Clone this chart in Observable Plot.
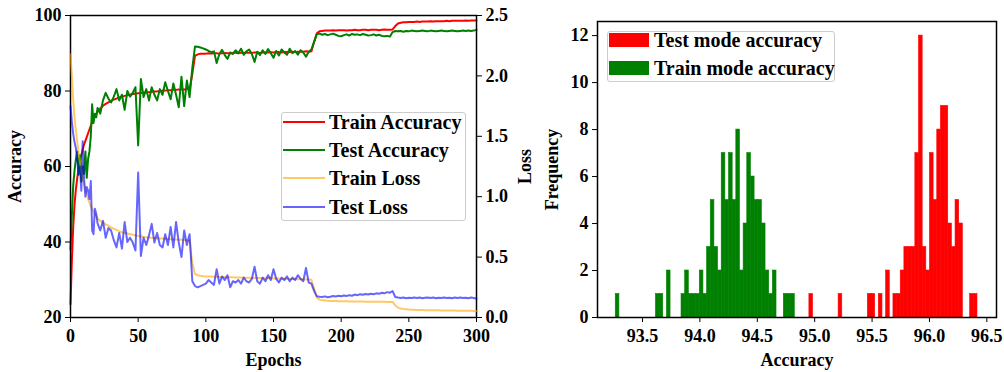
<!DOCTYPE html>
<html><head><meta charset="utf-8">
<script src="https://cdn.jsdelivr.net/npm/d3@7"></script>
<script src="https://cdn.jsdelivr.net/npm/@observablehq/plot@0.6"></script>
<style>
body{margin:0;background:#fff;}
#fig{position:relative;width:1004px;height:372px;overflow:hidden;font-family:"Liberation Serif","Times New Roman",serif;font-weight:bold;color:#000;}
#fig svg{position:absolute;top:0;}
.legend{position:absolute;background:rgba(255,255,255,0.8);border:1px solid #cccccc;border-radius:3px;box-sizing:border-box;}
.row{position:absolute;left:0;height:20px;line-height:20px;font-size:20px;white-space:nowrap;}
</style></head><body><div id="fig"></div>
<script>
// ---------- left panel: training curves ----------
const epochs = [0,1,2,3,4,5,6,7,8,9,10,11,12,13,14,15,16,17,18,19,20,
 22,24,26,28,30,32,34,36,38,40,
 42,44,46,48,50,52,54,56,58,60,
 62,64,66,68,70,72,74,76,78,80,
 82,84,86,88,90,92,94,96,98,100,
 102,104,106,108,110,112,114,116,118,120,
 122,124,126,128,130,132,134,136,138,140,
 142,144,146,148,150,152,154,156,158,160,
 162,164,166,168,170,172,174,176,178,180,
 182,184,186,188,190,192,194,196,198,200,
 202,204,206,208,210,212,214,216,218,220,
 222,224,226,228,230,232,234,236,238,240,
 242,244,246,248,250,252,254,256,258,260,
 262,264,266,268,270,272,274,276,278,280,
 282,284,286,288,290,292,294,296,298,300];

const trainAccuracy = [23.5,35,44,50,54,57,59.5,61.5,63,64.5,65.8,66.8,67.8,68.8,69.8,70.8,71.8,72.6,73.3,73.9,74.5,
 75.4,76.1,76.6,77.0,77.4,77.7,78.0,78.3,78.5,78.7,
 78.9,79.0,79.2,79.3,79.4,79.5,79.6,79.6,79.7,79.8,
 79.9,79.9,80.0,80.1,80.1,80.2,80.2,80.3,80.3,80.4,
 80.4,80.4,80.5,80.5,84.5,89.3,89.7,89.9,89.9,89.9,
 90.0,89.9,90.0,90.0,89.9,90.0,90.1,90.0,90.0,90.1,
 90.1,90.0,90.1,90.1,90.2,90.1,90.1,90.2,90.2,90.1,
 90.2,90.2,90.2,90.3,90.2,90.3,90.3,90.2,90.3,90.3,
 90.3,90.4,90.3,90.4,90.4,90.4,90.5,90.4,90.5,93.0,
 95.3,95.8,95.9,96.0,96.0,96.0,96.1,96.0,96.1,96.1,
 96.1,96.0,96.1,96.1,96.2,96.1,96.1,96.2,96.2,96.1,
 96.2,96.2,96.2,96.1,96.2,96.3,96.2,96.2,96.3,97.2,
 97.9,98.1,98.2,98.2,98.3,98.3,98.3,98.4,98.3,98.4,
 98.4,98.4,98.5,98.4,98.5,98.5,98.5,98.5,98.6,98.5,
 98.6,98.6,98.6,98.6,98.6,98.7,98.6,98.7,98.7,98.7];

const testAccuracy = [38,47,55,59,62,64,58,63,56,60,58,64,57,62,64,68,76.5,71.5,74,73,75.5,
 74,77.5,79.5,78,77,78.5,80.5,77.5,79,75,
 80.0,78.5,79.5,81.0,65.6,83.2,78.4,80.5,77.5,81.0,
 79.0,77.5,80.5,79.0,82.3,80.0,77.8,82.0,79.0,75.7,
 83.8,76.0,82.8,78.4,86.0,91.8,91.7,91.5,91.3,91.0,
 90.6,90.3,90.5,87.4,89.8,90.9,89.5,88.5,90.2,89.8,
 90.8,90.0,91.2,89.6,90.5,91.0,89.8,87.7,90.4,89.5,
 90.8,89.8,91.1,90.0,88.8,90.6,89.4,91.0,90.2,89.6,
 91.2,90.0,90.6,89.6,90.8,90.2,89.1,90.4,91.0,93.0,
 95.0,95.2,94.9,95.1,94.8,95.0,95.2,94.9,94.6,94.5,
 94.8,95.0,94.7,95.1,94.9,95.0,94.8,95.1,94.9,94.7,
 94.8,95.0,94.7,94.9,94.6,94.5,94.6,94.4,95.6,95.9,
 95.8,95.9,95.7,95.9,95.8,96.0,95.9,95.8,95.9,96.0,
 95.9,95.8,96.0,95.9,95.8,95.9,96.0,95.9,95.8,95.9,
 96.0,95.9,95.8,95.9,96.0,95.9,96.0,95.9,96.0,96.2];

const trainLoss = [2.18,2.0,1.8,1.65,1.55,1.45,1.36,1.29,1.22,1.16,1.11,1.06,1.02,0.98,0.95,0.92,0.90,0.88,0.86,0.84,0.82,
 0.80,0.785,0.77,0.76,0.745,0.735,0.725,0.715,0.705,0.70,
 0.695,0.69,0.685,0.68,0.675,0.672,0.668,0.665,0.662,0.66,
 0.658,0.656,0.655,0.653,0.652,0.65,0.648,0.646,0.645,0.644,
 0.643,0.642,0.64,0.638,0.45,0.36,0.35,0.345,0.342,0.34,
 0.34,0.34,0.338,0.338,0.336,0.335,0.335,0.334,0.333,0.333,
 0.332,0.331,0.331,0.33,0.33,0.329,0.328,0.328,0.327,0.326,
 0.326,0.325,0.324,0.324,0.323,0.322,0.322,0.321,0.32,0.32,
 0.319,0.318,0.318,0.317,0.316,0.316,0.315,0.314,0.313,0.24,
 0.165,0.148,0.142,0.14,0.138,0.137,0.136,0.136,0.135,0.135,
 0.134,0.134,0.133,0.133,0.133,0.132,0.132,0.132,0.131,0.131,
 0.131,0.131,0.13,0.13,0.13,0.13,0.129,0.129,0.129,0.1,
 0.082,0.074,0.07,0.068,0.066,0.065,0.064,0.063,0.062,0.062,
 0.061,0.061,0.06,0.06,0.059,0.059,0.058,0.058,0.058,0.057,
 0.057,0.057,0.056,0.056,0.056,0.055,0.055,0.055,0.054,0.054];

const testLoss = [1.75,1.62,1.52,1.45,1.40,1.30,1.18,1.25,1.05,1.46,1.15,1.0,1.08,1.05,0.98,1.13,0.72,0.69,0.9,0.86,0.78,
 0.72,0.80,0.66,0.74,0.72,0.64,0.58,0.70,0.57,0.79,
 0.625,0.66,0.62,0.555,1.20,0.51,0.66,0.60,0.68,0.775,
 0.62,0.70,0.60,0.58,0.69,0.60,0.75,0.58,0.79,0.62,
 0.50,0.72,0.60,0.69,0.30,0.26,0.25,0.26,0.27,0.28,
 0.31,0.29,0.27,0.40,0.28,0.34,0.31,0.35,0.25,0.30,
 0.29,0.31,0.28,0.33,0.30,0.29,0.32,0.42,0.30,0.28,
 0.33,0.30,0.35,0.31,0.40,0.32,0.29,0.33,0.31,0.34,
 0.30,0.33,0.31,0.35,0.32,0.30,0.41,0.29,0.28,0.22,
 0.175,0.172,0.17,0.175,0.168,0.172,0.178,0.174,0.18,0.176,
 0.182,0.178,0.185,0.18,0.19,0.185,0.192,0.188,0.195,0.19,
 0.197,0.193,0.2,0.196,0.205,0.2,0.21,0.205,0.218,0.17,
 0.165,0.162,0.166,0.16,0.164,0.161,0.166,0.162,0.165,0.16,
 0.163,0.166,0.161,0.165,0.16,0.164,0.162,0.166,0.161,0.164,
 0.16,0.165,0.162,0.166,0.161,0.164,0.16,0.165,0.162,0.155];

const epochTicks = [0,50,100,150,200,250,300];
const accuracyTicks = [20,40,60,80,100];
const lossTicks = [0,0.5,1.0,1.5,2.0,2.5];
const curveNames = ["Train Accuracy","Test Accuracy","Train Loss","Test Loss"];

// ---------- right panel: accuracy histogram ----------
const histBinStart = 93.267;
const histBinWidth = 0.03183;
const testModeCounts = [
 0,0,0,0,0,0,0,0,0,0, 0,0,0,0,0,0,0,0,0,0, 0,0,0,0,0,0,0,0,0,0,
 0,0,0,0,0,0,0,0,0,0, 0,0,0,0,0,0,0,0,0,0,
 0,0,0,1,0,0,0,0,0,0, 0,1,0,0,0,0,0,0,0,1,
 1,0,1,0,2,0,1,1,2,3, 3,3,7,12,3,2,7,5,8,9,
 9,4,3,5,4,0,0,1,1];
const trainModeCounts = [
 1,0,0,0,0,0,0,0,0,0, 0,1,1,0,2,0,0,0,1,2, 1,1,1,2,1,3,5,3,2,7,
 5,7,5,8,2,4,7,6,5,5, 4,2,1,2,0,0,1,1,1,0,
 0,0,0,0,0,0,0,0,0,0, 0,0,0,0,0,0,0,0,0,0,
 0,0,0,0,0,0,0,0,0,0, 0,0,0,0,0,0,0,0,0,0,
 0,0,0,0,0,0,0,0,0];
const histTicks = [93.5,94.0,94.5,95.0,95.5,96.0,96.5];
const freqTicks = [0,2,4,6,8,10,12];
const histNames = ["Test mode accuracy","Train mode accuracy"];

// ---------- build ----------
const FONT = '"Liberation Serif","Times New Roman",serif';
const TICK = 18;
const rows = epochs.map((e,i)=>({epoch:e, trainAcc:trainAccuracy[i], testAcc:testAccuracy[i], trainLoss:trainLoss[i], testLoss:testLoss[i]}));
const colors = {trainAcc:"#ff0000", testAcc:"#008000", trainLoss:"#ffa500", testLoss:"#0000ff"};
const LW = 2;
const baseStyle = {fontFamily: FONT, fontWeight: "bold", fontSize: TICK+"px", background: "none", overflow: "visible", color:"#000"};
const fig = document.getElementById("fig");
const axText = {fontSize:TICK, fontWeight:"bold", labelArrow:"none"};

const leftDims = {width:538, height:372, marginLeft:70, marginRight:62, marginTop:15, marginBottom:55};

const accPlot = Plot.plot({
  ...leftDims,
  style: baseStyle,
  x: {domain:[0,300]},
  y: {domain:[20,100]},
  marks: [
    Plot.lineY(rows, {x:"epoch", y:"trainAcc", stroke:colors.trainAcc, strokeWidth:LW}),
    Plot.lineY(rows, {x:"epoch", y:"testAcc", stroke:colors.testAcc, strokeWidth:LW}),
    Plot.frame({stroke:"#000", strokeWidth:1.5}),
    Plot.axisX({...axText, ticks:epochTicks, tickSize:5, tickPadding:7, label:"Epochs", labelAnchor:"center", labelOffset:48}),
    Plot.axisY({...axText, ticks:accuracyTicks, tickSize:5, tickPadding:4, label:"Accuracy", labelAnchor:"center", labelOffset:62})
  ]
});
accPlot.style.left = "0px";
fig.appendChild(accPlot);

const lossPlot = Plot.plot({
  ...leftDims,
  style: baseStyle,
  x: {domain:[0,300], axis:null},
  y: {domain:[0,2.5]},
  marks: [
    Plot.lineY(rows, {x:"epoch", y:"trainLoss", stroke:colors.trainLoss, strokeOpacity:0.6, strokeWidth:LW}),
    Plot.lineY(rows, {x:"epoch", y:"testLoss", stroke:colors.testLoss, strokeOpacity:0.6, strokeWidth:LW}),
    Plot.axisY({...axText, anchor:"right", ticks:lossTicks, tickFormat:d=>d.toFixed(1), tickSize:5, tickPadding:4, label:"Loss", labelAnchor:"center", labelOffset:54})
  ]
});
lossPlot.style.left = "0px";
fig.appendChild(lossPlot);

// legend (left)
function lineLegend(box, items){
  const d = document.createElement("div");
  d.className = "legend";
  Object.assign(d.style, {left:box.left+"px", top:box.top+"px", width:box.width+"px", height:box.height+"px"});
  items.forEach((it,i)=>{
    const cy = box.first + i*box.step;
    const r = document.createElement("div");
    r.className = "row";
    r.style.top = (cy-10)+"px";
    r.style.width = (box.width-2)+"px";
    const sw = document.createElement("div");
    Object.assign(sw.style, {position:"absolute", left:box.swX+"px", top:(10-LW/2)+"px", width:box.swW+"px", height:LW+"px", background:it.color, opacity:it.opacity});
    const t = document.createElement("span");
    Object.assign(t.style, {position:"absolute", left:box.textX+"px", top:"0px"});
    t.textContent = it.name;
    r.appendChild(sw); r.appendChild(t); d.appendChild(r);
  });
  fig.appendChild(d);
}
lineLegend({left:281, top:112, width:185, height:109, first:8.7, step:28.33, swX:1.3, swW:41.7, textX:47}, [
  {name:curveNames[0], color:colors.trainAcc, opacity:1},
  {name:curveNames[1], color:colors.testAcc, opacity:1},
  {name:curveNames[2], color:colors.trainLoss, opacity:0.6},
  {name:curveNames[3], color:colors.testLoss, opacity:0.6}
]);

// histogram
function bins(counts){
  return counts.map((c,i)=>({x1:histBinStart+i*histBinWidth, x2:histBinStart+(i+1)*histBinWidth, count:c})).filter(d=>d.count>0);
}
const histPlot = Plot.plot({
  width:466, height:372, marginLeft:59, marginRight:8, marginTop:21, marginBottom:55,
  style: baseStyle,
  x: {domain:[93.108, 96.584]},
  y: {domain:[0, 12.6]},
  marks: [
    Plot.rectY(bins(testModeCounts), {x1:"x1", x2:"x2", y:"count", fill:"#ff0000", stroke:"#ff0000", strokeWidth:0.6, inset:0}),
    Plot.rectY(bins(trainModeCounts), {x1:"x1", x2:"x2", y:"count", fill:"#008000", stroke:"#008000", strokeWidth:0.6, inset:0}),
    Plot.frame({stroke:"#000", strokeWidth:1.5}),
    Plot.axisX({...axText, ticks:histTicks, tickFormat:d=>d.toFixed(1), tickSize:5, tickPadding:7, label:"Accuracy", labelAnchor:"center", labelOffset:48}),
    Plot.axisY({...axText, ticks:freqTicks, tickSize:5, tickPadding:4, label:"Frequency", labelAnchor:"center", labelOffset:52})
  ]
});
histPlot.style.left = "538px";
fig.appendChild(histPlot);

// legend (right)
(function(){
  const box = {left:607, top:31, width:228, height:51};
  const d = document.createElement("div");
  d.className = "legend";
  Object.assign(d.style, {left:box.left+"px", top:box.top+"px", width:box.width+"px", height:box.height+"px"});
  [[histNames[0],"#ff0000"],[histNames[1],"#008000"]].forEach(([name,col],i)=>{
    const cy = 8 + i*28.33;
    const r = document.createElement("div");
    r.className = "row";
    r.style.top = (cy-10)+"px";
    r.style.width = (box.width-2)+"px";
    const sw = document.createElement("div");
    Object.assign(sw.style, {position:"absolute", left:"1px", top:"3px", width:"40px", height:"14px", background:col});
    const t = document.createElement("span");
    Object.assign(t.style, {position:"absolute", left:"46px", top:"0px"});
    t.textContent = name;
    r.appendChild(sw); r.appendChild(t); d.appendChild(r);
  });
  fig.appendChild(d);
})();
</script></body></html>
